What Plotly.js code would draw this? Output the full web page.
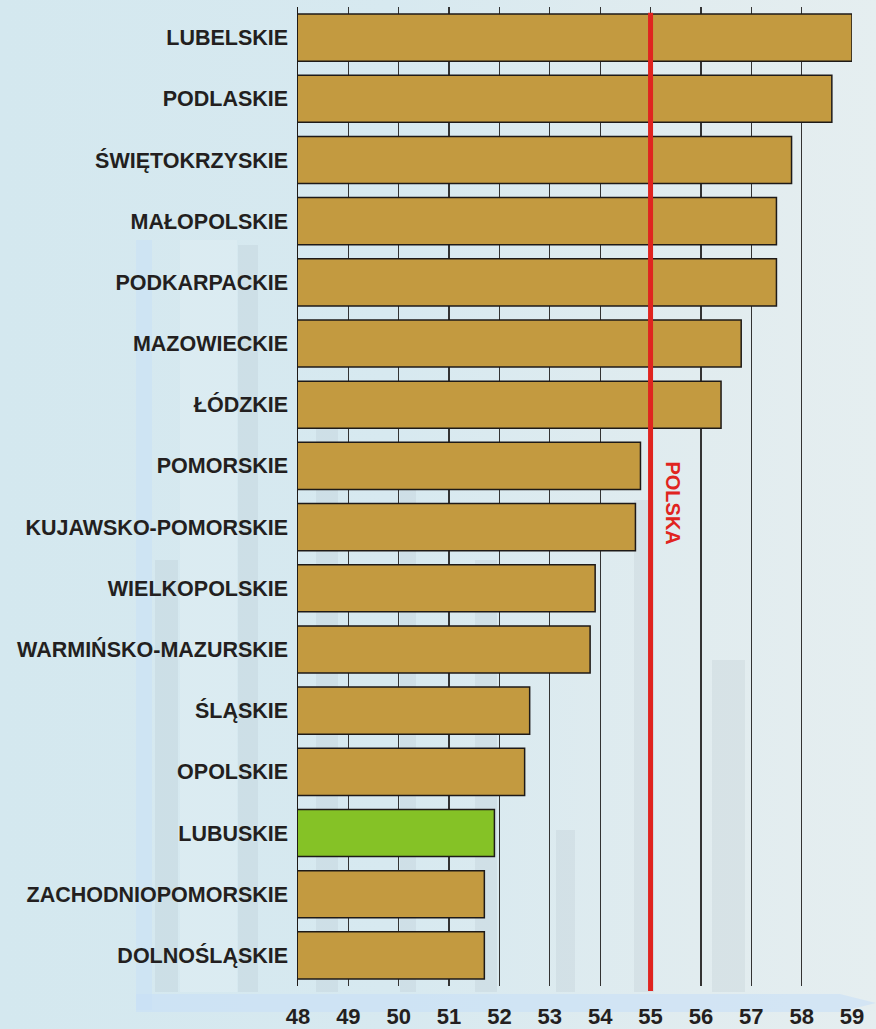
<!DOCTYPE html>
<html>
<head>
<meta charset="utf-8">
<script src="https://cdn.plot.ly/plotly-3.0.1.min.js"></script>
<style>
  html, body { margin: 0; padding: 0; }
  body {
    width: 876px; height: 1029px; overflow: hidden;
    background: linear-gradient(to right, #D4E8EF 0%, #D7E9F0 45%, #E1ECEF 80%, #E5EEF0 100%);
  }
  #chart { width: 876px; height: 1029px; }
</style>
</head>
<body>
<div id="chart"></div>
<script>
// ---- data ----
const regions = [
  "LUBELSKIE", "PODLASKIE", "ŚWIĘTOKRZYSKIE", "MAŁOPOLSKIE", "PODKARPACKIE",
  "MAZOWIECKIE", "ŁÓDZKIE", "POMORSKIE", "KUJAWSKO-POMORSKIE", "WIELKOPOLSKIE",
  "WARMIŃSKO-MAZURSKIE", "ŚLĄSKIE", "OPOLSKIE", "LUBUSKIE", "ZACHODNIOPOMORSKIE",
  "DOLNOŚLĄSKIE"
];
const values = [59.0, 58.6, 57.8, 57.5, 57.5, 56.8, 56.4, 54.8, 54.7, 53.9, 53.8, 52.6, 52.5, 51.9, 51.7, 51.7];
const highlighted = "LUBUSKIE";
const polskaValue = 55;
const polskaLabel = "POLSKA";
const xTicks = [48, 49, 50, 51, 52, 53, 54, 55, 56, 57, 58, 59];

// ---- layout helpers ----
const W = 876, H = 1029;
const M = {l: 298, r: 24, t: 7, b: 43};
const pw = W - M.l - M.r, ph = H - M.t - M.b;
const px = x => (x - M.l) / pw;
const py = y => 1 - (y - M.t) / ph;

const barColors = regions.map(r => r === highlighted ? "#85C226" : "#C39A40");

const trace = {
  type: "bar",
  orientation: "h",
  y: regions,
  x: values,
  base: 0,
  width: 0.77,
  marker: { color: barColors, line: { color: "#1E1A18", width: 1.5 } },
  hoverinfo: "x+y"
};

// decorative background "building" graphics
const deco = [];
const stripes = [
  [155, 178, 560], [238, 258, 245], [316, 338, 390], [400, 416, 450],
  [475, 497, 560], [556, 575, 830], [634, 654, 500], [712, 745, 660]
];
stripes.forEach(s => deco.push({
  type: "rect", xref: "paper", yref: "paper", layer: "below",
  x0: px(s[0]), x1: px(s[1]), y0: py(992), y1: py(s[2]),
  fillcolor: "rgba(150,162,168,0.13)", line: { width: 0 }
}));
deco.push({
  type: "rect", xref: "paper", yref: "paper", layer: "below",
  x0: px(180), x1: px(237), y0: py(992), y1: py(240),
  fillcolor: "rgba(228,240,246,0.4)", line: { width: 0 }
});
deco.push({
  type: "rect", xref: "paper", yref: "paper", layer: "below",
  x0: px(136), x1: px(152), y0: py(1010), y1: py(240),
  fillcolor: "rgba(200,224,246,0.55)", line: { width: 0 }
});
deco.push({
  type: "path", xref: "paper", yref: "paper", layer: "below",
  path: `M ${px(136)} ${py(994)} L ${px(840)} ${py(994)} L ${px(876)} ${py(1003)} L ${px(840)} ${py(1012)} L ${px(136)} ${py(1012)} Z`,
  fillcolor: "rgba(200,224,246,0.6)", line: { width: 0 }
});

const layout = {
  width: W, height: H,
  margin: M,
  paper_bgcolor: "rgba(0,0,0,0)",
  plot_bgcolor: "rgba(0,0,0,0)",
  showlegend: false,
  font: { family: "Arial, 'Liberation Sans', sans-serif", color: "#231F20" },
  xaxis: {
    range: [48, 59],
    tickmode: "array",
    tickvals: xTicks,
    ticktext: xTicks.map(String),
    showgrid: true,
    gridcolor: "#333333",
    gridwidth: 1.2,
    zeroline: false,
    showline: false,
    ticks: "outside",
    ticklen: 11,
    tickcolor: "rgba(0,0,0,0)",
    tickfont: { family: "Arial, 'Liberation Sans', sans-serif", size: 22, weight: 700, color: "#231F20" },
    automargin: false,
    fixedrange: true
  },
  yaxis: {
    type: "category",
    autorange: "reversed",
    showgrid: false,
    zeroline: false,
    showline: true,
    linecolor: "#1E1A18",
    linewidth: 1.5,
    ticks: "",
    ticklabelstandoff: 4,
    tickfont: { size: 21.5, weight: "bold", color: "#231F20" },
    fixedrange: true
  },
  shapes: deco.concat([{
    type: "line", xref: "x", yref: "paper",
    x0: polskaValue, x1: polskaValue, y0: -0.005, y1: 0.994,
    line: { color: "#E0241F", width: 5 }
  }]),
  annotations: [{
    xref: "x", yref: "paper",
    x: polskaValue, xshift: 22, y: py(503),
    text: polskaLabel, showarrow: false, textangle: 90,
    font: { size: 20, weight: "bold", color: "#E0241F" }
  }]
};

Plotly.newPlot("chart", [trace], layout, { displayModeBar: false, staticPlot: true });
</script>
</body>
</html>
